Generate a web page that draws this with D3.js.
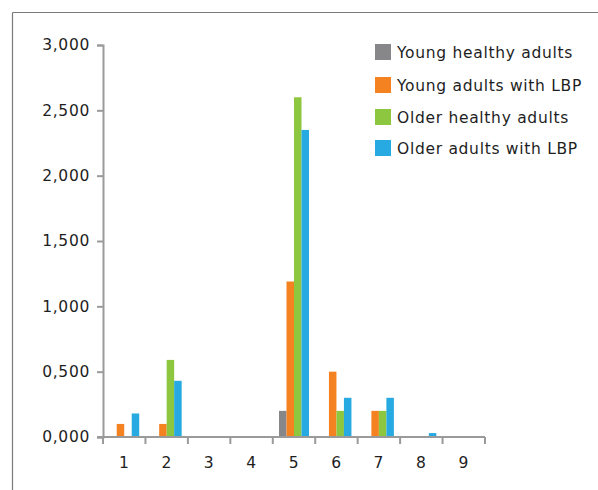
<!DOCTYPE html>
<html>
<head>
<meta charset="utf-8">
<script src="https://cdn.jsdelivr.net/npm/d3@7"></script>
<style>
  html, body { margin: 0; padding: 0; background: #fff; }
  svg text { font-family: "DejaVu Sans", sans-serif; font-size: 15.5px; fill: #1e1e1e; letter-spacing: 0.7px; }
</style>
</head>
<body>
<svg id="chart" width="598" height="490"></svg>
<script>
const categories = ["1","2","3","4","5","6","7","8","9"];
const seriesNames = ["Young healthy adults","Young adults with LBP","Older healthy adults","Older adults with LBP"];
const youngHealthy = [0, 0, 0, 0, 0.2, 0, 0, 0, 0];
const youngLBP     = [0.1, 0.1, 0, 0, 1.19, 0.5, 0.2, 0, 0];
const olderHealthy = [0, 0.59, 0, 0, 2.6, 0.2, 0.2, 0, 0];
const olderLBP     = [0.18, 0.43, 0, 0, 2.35, 0.3, 0.3, 0.03, 0];
const yTicks = [0, 0.5, 1, 1.5, 2, 2.5, 3];
const colors = ["#87878a", "#f58220", "#8dc63f", "#27aae1"];

const seriesValues = [youngHealthy, youngLBP, olderHealthy, olderLBP];
const svg = d3.select("#chart");

// outer frame (top and left lines)
svg.append("line").attr("x1", 12.5).attr("x2", 598).attr("y1", 12.5).attr("y2", 12.5)
  .attr("stroke", "#7a7a7a").attr("stroke-width", 1.2);
svg.append("line").attr("x1", 12.5).attr("x2", 12.5).attr("y1", 12.5).attr("y2", 490)
  .attr("stroke", "#7a7a7a").attr("stroke-width", 1.2);

const x0 = d3.scaleBand().domain(categories).range([103, 485]).paddingInner(0).paddingOuter(0);
const x1 = d3.scaleBand().domain(seriesNames).range([0, x0.bandwidth()]).paddingInner(0).paddingOuter(0.83);
const y = d3.scaleLinear().domain([0, 3]).range([437, 45]);

const fmt = v => d3.format(".3f")(v).replace(".", ",");

// bars
const data = [];
categories.forEach((c, i) => {
  seriesNames.forEach((s, j) => {
    const v = seriesValues[j][i];
    if (v > 0) data.push({c, s, v, color: colors[j]});
  });
});
svg.append("g").selectAll("rect").data(data).join("rect")
  .attr("x", d => x0(d.c) + x1(d.s))
  .attr("width", x1.bandwidth())
  .attr("y", d => y(d.v))
  .attr("height", d => y(0) - y(d.v))
  .attr("fill", d => d.color);

const axisColor = "#9a9a9a";

// y axis
const yAxis = svg.append("g").attr("transform", "translate(103,0)")
  .call(d3.axisLeft(y).tickValues(yTicks).tickFormat(fmt).tickSize(6).tickPadding(7));
yAxis.select(".domain").attr("stroke", axisColor).attr("stroke-width", 2);
yAxis.selectAll(".tick line").attr("stroke", axisColor).attr("stroke-width", 2);
yAxis.selectAll(".tick text").attr("font-family", null).attr("font-size", null).style("fill", "#1e1e1e");

// x axis
const xAxis = svg.append("g").attr("transform", "translate(0,437)")
  .call(d3.axisBottom(x0).tickSize(0).tickSizeOuter(0).tickPadding(0));
xAxis.select(".domain").remove();
xAxis.append("line").attr("x1", 97).attr("x2", 485).attr("y1", 0).attr("y2", 0)
  .attr("stroke", axisColor).attr("stroke-width", 2);
xAxis.selectAll(".tick text").attr("font-family", null).attr("font-size", null)
  .attr("dy", null).attr("y", 31).style("fill", "#1e1e1e");
const bounds = categories.map(c => x0(c)).concat([x0.range()[1]]);
xAxis.selectAll(".bound").data(bounds).join("line").attr("class", "bound")
  .attr("x1", d => d).attr("x2", d => d).attr("y1", 0).attr("y2", 7)
  .attr("stroke", axisColor).attr("stroke-width", 2);

// legend
const legend = svg.append("g");
const rowY = [52, 85, 117, 148];
seriesNames.forEach((s, j) => {
  legend.append("rect").attr("x", 375).attr("y", rowY[j] - 8).attr("width", 16).attr("height", 16)
    .attr("fill", colors[j]);
  legend.append("text").attr("x", 397).attr("y", rowY[j] + 5.5).text(s);
});
</script>
</body>
</html>
